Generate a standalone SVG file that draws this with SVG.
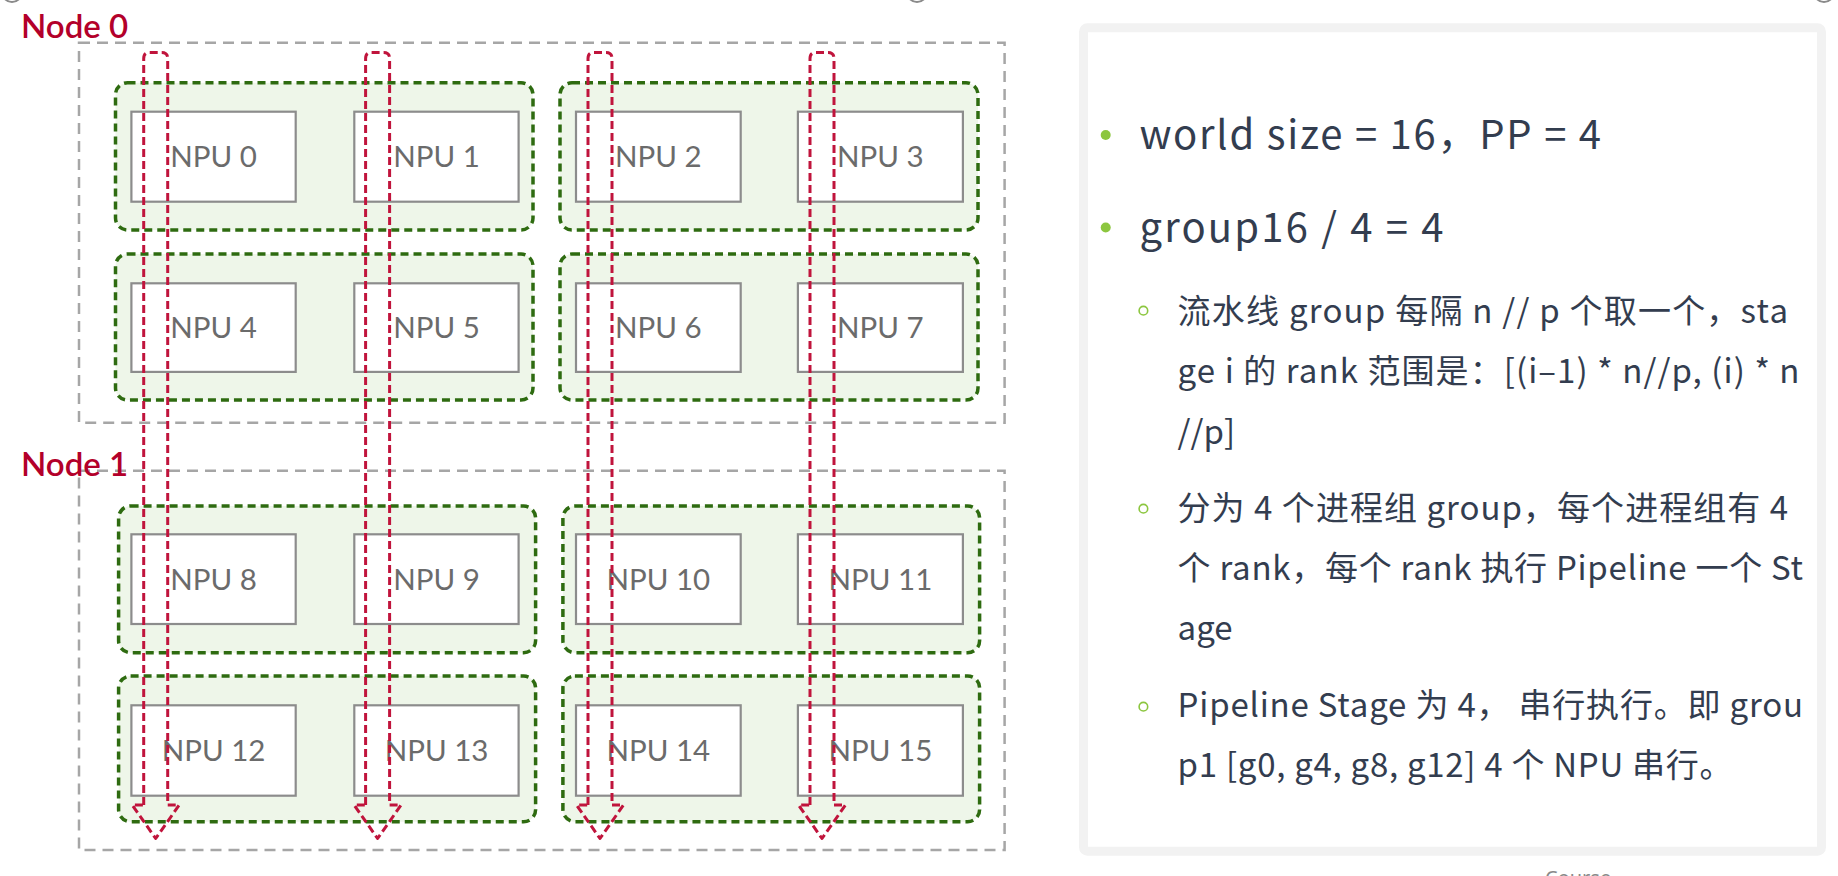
<svg xmlns="http://www.w3.org/2000/svg" xmlns:xlink="http://www.w3.org/1999/xlink" width="1838" height="876" viewBox="0 0 1838 876">
<style>
.nodebox{fill:none;stroke:#a6a6a6;stroke-width:2.5;stroke-dasharray:11 7}
.nodelabel{font-family:"Gill Sans",Lato,"Liberation Sans",sans-serif;font-size:33px;font-weight:600;fill:#b3002a}
.grp{fill:#eef6e9;stroke:#2e6b10;stroke-width:3.5;stroke-dasharray:8 5}
.npu{fill:#ffffff;stroke:#8c8c8c;stroke-width:2.2}
.npulabel{font-family:"Gill Sans",Lato,"Liberation Sans",sans-serif;font-size:29.5px;fill:#6b6b6b;text-anchor:middle}
.pipe{fill:none;stroke:#c0143c;stroke-width:3;stroke-dasharray:8 4;stroke-linejoin:round}
.panel{fill:#ffffff;stroke:#f2f2f2;stroke-width:9}
.main{font-family:"Noto Sans CJK SC","Noto Sans",sans-serif;font-size:40px;fill:#333d4f}
.sub{font-family:"Noto Sans CJK SC","Noto Sans",sans-serif;font-size:33px;fill:#333d4f}
.dot{fill:#8cc63f}
.ring{fill:none;stroke:#8cc63f;stroke-width:1.6}
.frag{fill:none;stroke:#8a8a8a;stroke-width:2}
.course{font-family:"Noto Sans","Liberation Sans",sans-serif;font-size:20px;fill:#8a8a8a}
</style>
<defs>
<path id="pipeArrow" d="M -12 805 V 58.5 Q -12 52.5 -6 52.5 H 6 Q 12 52.5 12 58.5 V 805 H 23.5 L 0 838.5 L -23.5 805 Z"/>
</defs>
<rect width="1838" height="876" fill="#ffffff"/>
<g id="fragments">
<circle class="frag" cx="12" cy="-8" r="10"/>
<circle class="frag" cx="917" cy="-8" r="10"/>
<circle class="frag" cx="1824" cy="-8" r="10"/>
</g>
<g id="node0">
<rect class="nodebox" x="79" y="42.7" width="925.6" height="380"/>
<text class="nodelabel" x="21" y="38">Node 0</text>
</g>
<g id="node1">
<rect class="nodebox" x="79" y="470.7" width="925.6" height="379.3"/>
<text class="nodelabel" x="21" y="476">Node 1</text>
</g>
<g id="groups">
<rect id="grp-0-1" class="grp" x="115.5" y="82.7" width="417.5" height="147.3" rx="12"/>
<rect id="grp-2-3" class="grp" x="560" y="82.7" width="418" height="147.3" rx="12"/>
<rect id="grp-4-5" class="grp" x="115.5" y="254" width="417.5" height="146" rx="12"/>
<rect id="grp-6-7" class="grp" x="560" y="254" width="418" height="146" rx="12"/>
<rect id="grp-8-9" class="grp" x="118.6" y="506" width="417" height="146.7" rx="12"/>
<rect id="grp-10-11" class="grp" x="562.9" y="506" width="416.7" height="146.7" rx="12"/>
<rect id="grp-12-13" class="grp" x="118.6" y="676" width="417" height="145.7" rx="12"/>
<rect id="grp-14-15" class="grp" x="562.9" y="676" width="416.7" height="145.7" rx="12"/>
</g>
<g id="npu0"><rect class="npu" x="131.4" y="111.7" width="164.3" height="90"/><text class="npulabel" x="213.5" y="167">NPU 0</text></g>
<g id="npu1"><rect class="npu" x="354.3" y="111.7" width="164.3" height="90"/><text class="npulabel" x="436.5" y="167">NPU 1</text></g>
<g id="npu2"><rect class="npu" x="576" y="111.7" width="164.7" height="90"/><text class="npulabel" x="658.3" y="167">NPU 2</text></g>
<g id="npu3"><rect class="npu" x="797.9" y="111.7" width="165" height="90"/><text class="npulabel" x="880.4" y="167">NPU 3</text></g>
<g id="npu4"><rect class="npu" x="131.4" y="283.3" width="164.3" height="88.6"/><text class="npulabel" x="213.5" y="338">NPU 4</text></g>
<g id="npu5"><rect class="npu" x="354.3" y="283.3" width="164.3" height="88.6"/><text class="npulabel" x="436.5" y="338">NPU 5</text></g>
<g id="npu6"><rect class="npu" x="576" y="283.3" width="164.7" height="88.6"/><text class="npulabel" x="658.3" y="338">NPU 6</text></g>
<g id="npu7"><rect class="npu" x="797.9" y="283.3" width="165" height="88.6"/><text class="npulabel" x="880.4" y="338">NPU 7</text></g>
<g id="npu8"><rect class="npu" x="131.4" y="534.3" width="164.3" height="89.7"/><text class="npulabel" x="213.5" y="589.5">NPU 8</text></g>
<g id="npu9"><rect class="npu" x="354.3" y="534.3" width="164.3" height="89.7"/><text class="npulabel" x="436.5" y="589.5">NPU 9</text></g>
<g id="npu10"><rect class="npu" x="576" y="534.3" width="164.7" height="89.7"/><text class="npulabel" x="658.3" y="589.5">NPU 10</text></g>
<g id="npu11"><rect class="npu" x="797.9" y="534.3" width="165" height="89.7"/><text class="npulabel" x="880.4" y="589.5">NPU 11</text></g>
<g id="npu12"><rect class="npu" x="131.4" y="705.3" width="164.3" height="90.4"/><text class="npulabel" x="213.5" y="761">NPU 12</text></g>
<g id="npu13"><rect class="npu" x="354.3" y="705.3" width="164.3" height="90.4"/><text class="npulabel" x="436.5" y="761">NPU 13</text></g>
<g id="npu14"><rect class="npu" x="576" y="705.3" width="164.7" height="90.4"/><text class="npulabel" x="658.3" y="761">NPU 14</text></g>
<g id="npu15"><rect class="npu" x="797.9" y="705.3" width="165" height="90.4"/><text class="npulabel" x="880.4" y="761">NPU 15</text></g>
<g id="connectors">
<use class="pipe" xlink:href="#pipeArrow" href="#pipeArrow" transform="translate(155.7 0)"/>
<use class="pipe" xlink:href="#pipeArrow" href="#pipeArrow" transform="translate(377.6 0)"/>
<use class="pipe" xlink:href="#pipeArrow" href="#pipeArrow" transform="translate(600 0)"/>
<use class="pipe" xlink:href="#pipeArrow" href="#pipeArrow" transform="translate(822 0)"/>
</g>
<g id="panel">
<rect class="panel" x="1083.5" y="27.8" width="738" height="823.5" rx="4"/>
<circle class="dot" cx="1105.7" cy="135" r="5"/>
<text class="main" x="1139.4" y="149" textLength="461.6" lengthAdjust="spacing">world size = 16，PP = 4</text>
<circle class="dot" cx="1105.7" cy="227.5" r="5"/>
<text class="main" x="1139.4" y="242" textLength="304" lengthAdjust="spacing">group16 / 4 = 4</text>
<circle class="ring" cx="1143.4" cy="310.7" r="4.3"/>
<text class="sub" x="1177.6" y="322.7" textLength="610.4" lengthAdjust="spacing">流水线 group 每隔 n // p 个取一个，sta</text>
<text class="sub" x="1177.6" y="383.3" textLength="621.9" lengthAdjust="spacing">ge i 的 rank 范围是：[(i–1) * n//p, (i) * n</text>
<text class="sub" x="1177.6" y="444">//p]</text>
<circle class="ring" cx="1143.4" cy="508.7" r="4.3"/>
<text class="sub" x="1177.6" y="520" textLength="610.4" lengthAdjust="spacing">分为 4 个进程组 group，每个进程组有 4</text>
<text class="sub" x="1177.6" y="580" textLength="625.4" lengthAdjust="spacing">个 rank，每个 rank 执行 Pipeline 一个 St</text>
<text class="sub" x="1177.6" y="640">age</text>
<circle class="ring" cx="1143.4" cy="706.7" r="4.3"/>
<text class="sub" x="1177.6" y="716.7" textLength="625.4" lengthAdjust="spacing">Pipeline Stage 为 4， 串行执行。即 grou</text>
<text class="sub" x="1177.6" y="777.3" textLength="554.9" lengthAdjust="spacing">p1 [g0, g4, g8, g12] 4 个 NPU 串行。</text>
</g>
<text class="course" x="1545" y="885">Course</text>
</svg>
